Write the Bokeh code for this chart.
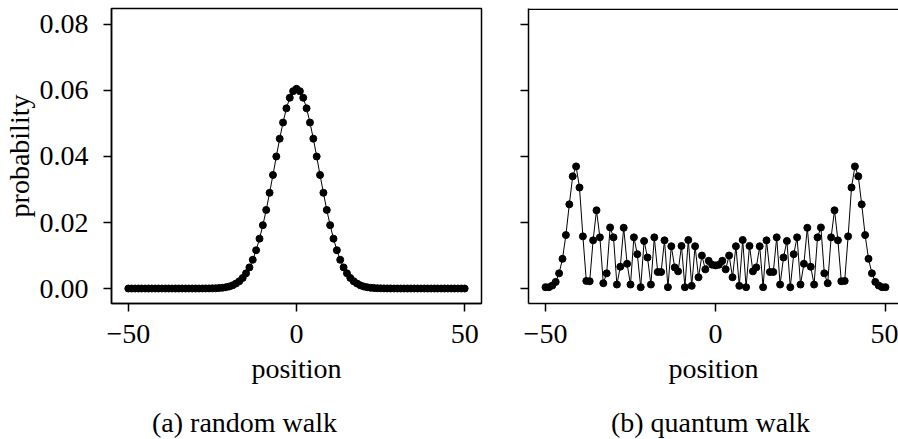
from bokeh.plotting import figure
from bokeh.layouts import row, column
from bokeh.models import Range1d, FixedTicker, Span, Label
from bokeh.embed import file_html
from bokeh.resources import INLINE

# ---------------- data ----------------
positions = list(range(-50, 51))

random_walk = [
    0.0, 0.0, 0.0, 0.0, 0.0, 0.0, 0.0, 0.0, 0.0, 0.0, 0.0,
    0.0, 0.0, 0.0, 0.0, 0.0, 0.0, 0.0, 0.0, 0.0, 0.0, 0.0,
    0.00001, 0.00002, 0.00003, 0.00005, 0.00008, 0.00014, 0.00023, 0.00038,
    0.0006, 0.00095, 0.0015, 0.0022, 0.0032, 0.0046, 0.0064, 0.0087, 0.0116,
    0.0151, 0.0192, 0.0238, 0.0290, 0.0344, 0.0400, 0.0454, 0.0503, 0.0546,
    0.0578, 0.0598,
    0.0605,
    0.0598, 0.0578, 0.0546, 0.0503, 0.0454, 0.0400, 0.0344, 0.0290, 0.0238,
    0.0192, 0.0151, 0.0116, 0.0087, 0.0064, 0.0046, 0.0032, 0.0022, 0.0015,
    0.00095, 0.0006, 0.00038, 0.00023, 0.00014, 0.00008, 0.00005, 0.00003,
    0.00002, 0.00001,
    0.0, 0.0, 0.0, 0.0, 0.0, 0.0, 0.0, 0.0, 0.0, 0.0, 0.0,
    0.0, 0.0, 0.0, 0.0, 0.0, 0.0, 0.0, 0.0, 0.0, 0.0, 0.0,
]

quantum_walk = [
    0.0004, 0.0004, 0.0009, 0.0020, 0.0046, 0.0090, 0.0162, 0.0255, 0.0340,
    0.0370, 0.0306, 0.0158, 0.0023, 0.0022, 0.0146, 0.0237, 0.0155, 0.0016,
    0.0046, 0.0185, 0.0155, 0.0012, 0.0066, 0.0184, 0.0075, 0.0012, 0.0155,
    0.0104, 0.0004, 0.0144, 0.0094, 0.0012, 0.0155, 0.0050, 0.0050, 0.0146,
    0.0004, 0.0128, 0.0064, 0.0052, 0.0129, 0.0004, 0.0147, 0.0008, 0.0128,
    0.0034, 0.0100, 0.0058, 0.0084, 0.0072,
    0.0070,
    0.0072, 0.0084, 0.0058, 0.0100, 0.0034, 0.0128, 0.0008, 0.0147, 0.0004,
    0.0129, 0.0052, 0.0064, 0.0128, 0.0004, 0.0146, 0.0050, 0.0050, 0.0155,
    0.0012, 0.0094, 0.0144, 0.0004, 0.0104, 0.0155, 0.0012, 0.0075, 0.0184,
    0.0066, 0.0012, 0.0155, 0.0185, 0.0046, 0.0016, 0.0155, 0.0237, 0.0146,
    0.0022, 0.0023, 0.0158, 0.0306, 0.0370, 0.0340, 0.0255, 0.0162, 0.0090,
    0.0046, 0.0020, 0.0009, 0.0004, 0.0004,
]

x_ticks = [-50, 0, 50]
x_tick_labels = ["\u221250", "0", "50"]
y_ticks = [0.0, 0.02, 0.04, 0.06, 0.08]
y_tick_labels = ["0.00", "0.02", "0.04", "0.06", "0.08"]
captions = ["(a) random walk", "(b) quantum walk"]
x_label = "position"
y_label = "probability"

# ---------------- styling ----------------
FONT = "Liberation Serif"
FS = "28px"
H_MAIN = 395
H_CAP = 44
BORDER_TOP = 8
BORDER_BOTTOM = H_MAIN - 303
Y_START = -0.004545
Y_END = 0.084848
W1 = 495
W2 = 898 - W1


def style(p, show_ylabels):
    p.background_fill_color = "white"
    p.border_fill_color = "white"
    p.grid.visible = False
    for ax in (p.xaxis[0], p.yaxis[0]):
        ax.axis_line_color = "black"
        ax.axis_line_width = 1.5
        ax.major_tick_line_color = "black"
        ax.major_tick_line_width = 1.5
        ax.major_tick_out = 8
        ax.major_tick_in = 0
        ax.minor_tick_line_color = None
        ax.major_label_text_font = FONT
        ax.major_label_text_font_size = FS
        ax.major_label_text_color = "black"
        ax.axis_label_text_font = FONT
        ax.axis_label_text_font_size = FS
        ax.axis_label_text_font_style = "normal"
        ax.axis_label_text_color = "black"
    p.xaxis.ticker = FixedTicker(ticks=x_ticks)
    p.xaxis.major_label_overrides = dict(zip(x_ticks, x_tick_labels))
    p.xaxis.major_label_standoff = 13
    p.xaxis.axis_label = x_label
    p.xaxis.axis_label_standoff = 7
    p.yaxis.ticker = FixedTicker(ticks=y_ticks)
    if show_ylabels:
        p.yaxis.major_label_overrides = dict(zip(y_ticks, y_tick_labels))
        p.yaxis.major_label_standoff = 15
        p.yaxis.axis_label = y_label
        p.yaxis.axis_label_standoff = 2
    else:
        p.yaxis.major_label_text_font_size = "1px"
        p.yaxis.major_label_text_color = None
        p.yaxis.major_label_standoff = 0


def draw(p, ys):
    p.line(positions, ys, line_color="black", line_width=1)
    p.scatter(positions, ys, size=7, fill_color="black", line_color="black")


def caption_fig(width, text, x_center):
    c = figure(width=width, height=H_CAP, output_backend="svg",
               toolbar_location=None, x_axis_type=None, y_axis_type=None,
               x_range=Range1d(0, 1), y_range=Range1d(0, 1),
               min_border=0)
    c.outline_line_color = None
    c.background_fill_color = "white"
    c.border_fill_color = "white"
    c.grid.visible = False
    c.add_layout(Label(x=x_center, y=H_CAP - 27, x_units="screen",
                       y_units="screen", text=text, text_align="center",
                       text_baseline="middle", text_font=FONT,
                       text_font_size=FS, text_color="black"))
    return c


p1 = figure(width=W1, height=H_MAIN, output_backend="svg", toolbar_location=None,
            x_range=Range1d(-55, 55), y_range=Range1d(Y_START, Y_END),
            min_border_left=107, min_border_right=14,
            min_border_top=BORDER_TOP, min_border_bottom=BORDER_BOTTOM)
p1.outline_line_color = "black"
p1.outline_line_width = 1.5
style(p1, True)
draw(p1, random_walk)

p2 = figure(width=W2, height=H_MAIN, output_backend="svg", toolbar_location=None,
            x_range=Range1d(-55, 53.82), y_range=Range1d(Y_START, Y_END),
            min_border_left=33, min_border_right=0,
            min_border_top=BORDER_TOP, min_border_bottom=BORDER_BOTTOM)
p2.outline_line_color = None
style(p2, False)
draw(p2, quantum_walk)
p2.add_layout(Span(location=Y_END - 0.0002, dimension="width",
                   line_color="black", line_width=1.5))

c1 = caption_fig(W1, captions[0], 244)
c2 = caption_fig(W2, captions[1], 710 - W1)

layout = column(row(p1, p2), row(c1, c2))
open("out.html", "w").write(file_html(layout, INLINE))
